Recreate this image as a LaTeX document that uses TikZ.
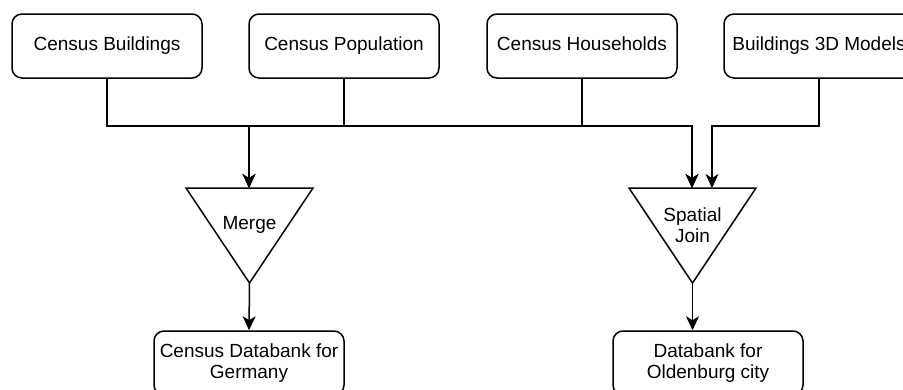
\documentclass[tikz,border=0pt]{standalone}
\usepackage{fontspec}
\setmainfont{Liberation Sans}
\usetikzlibrary{arrows.meta}
\begin{document}
\begin{tikzpicture}[x=1pt,y=-1pt,
  box/.style={draw, line width=1.5pt, rounded corners=10pt, minimum width=190pt, minimum height=64pt, inner sep=2pt, align=center, font=\fontsize{19pt}{20.5pt}\selectfont},
  one/.style={text height=13.5pt, text depth=4pt},
  tri/.style={draw, line width=1.5pt, line join=miter},
  lbl/.style={align=center, inner sep=0pt, font=\fontsize{19pt}{20.5pt}\selectfont},
  arr/.style={draw, line width=1.5pt, -{Stealth[length=14pt,width=13pt,inset=4pt]}}]
\useasboundingbox (0,0) rectangle (903,389);
\clip (0,0) rectangle (903,389);
% top boxes
\node[box,one] (cb) at (107,46) {Census Buildings};
\node[box,one] (cp) at (344,46) {Census Population};
\node[box,one] (ch) at (582,46) {Census Households};
\node[box,one] (bm) at (819,46) {Buildings 3D Models};
% triangles
\coordinate (mtl) at (186,188);
\coordinate (mtr) at (313,188);
\coordinate (map) at (249.5,283);
\coordinate (mtop) at (249,188);
\draw[tri] (mtl) -- (mtr) -- (map) -- cycle;
\node[lbl,one] (merge) at (249.5,225) {Merge};
\coordinate (stl) at (629,188);
\coordinate (str) at (756,188);
\coordinate (sap) at (692.5,283);
\coordinate (stopa) at (692,188);
\coordinate (stopb) at (712,188);
\draw[tri] (stl) -- (str) -- (sap) -- cycle;
\node[lbl] (sj) at (692.5,225) {Spatial\\Join};
% bottom boxes
\node[box] (cdg) at (249,363) {Census Databank for\\Germany};
\node[box] (dbo) at (708,363) {Databank for\\Oldenburg city};
% connectors
\draw[arr] (cb.south) -- ++(0,47) -| (mtop);
\draw[arr] (cp.south) -- ++(0,47) -| (mtop);
\draw[arr] (cb.south) -- ++(0,47) -| (stopa);
\draw[arr] (ch.south) -- ++(0,47) -| (stopa);
\draw[arr] (bm.south) -- ++(0,47) -| (stopb);
\draw[arr] (map) -- (cdg.north);
\draw[arr] (sap) -- (sap |- dbo.north);
\end{tikzpicture}
\end{document}
